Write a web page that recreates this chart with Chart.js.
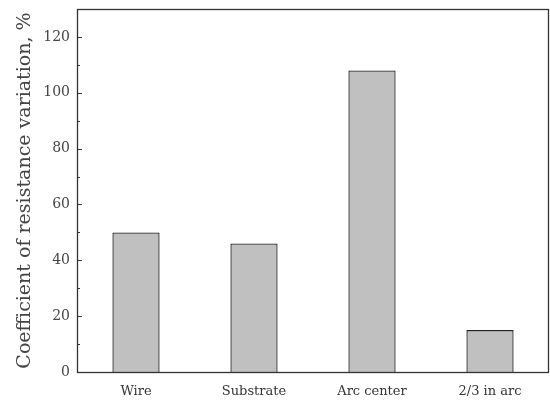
<!DOCTYPE html>
<html><head><meta charset="utf-8">
<script src="https://cdn.jsdelivr.net/npm/chart.js@4/dist/chart.umd.min.js"></script>
<style>html,body{margin:0;padding:0;background:#fff}#w{width:550px;height:402px}</style>
</head><body><div id="w"><canvas id="c" width="550" height="402"></canvas></div>
<script>
const categories = ["Wire", "Substrate", "Arc center", "2/3 in arc"];
const values = [50, 46, 108, 15];
const yTicks = [0, 20, 40, 60, 80, 100, 120];
const yTitle = "Coefficient of resistance variation, %";

const frame = {
  id: 'frame',
  afterDraw(chart) {
    const {ctx, chartArea: a, scales: {y}} = chart;
    ctx.save();
    ctx.strokeStyle = '#333';
    ctx.lineWidth = 1;
    for (let v = 0; v <= 130; v += 10) {
      const py = Math.round(y.getPixelForValue(v)) + 0.5;
      const len = (v % 20 === 0) ? 5 : 3;
      ctx.beginPath(); ctx.moveTo(a.left, py); ctx.lineTo(a.left + len, py); ctx.stroke();
    }
    ctx.lineWidth = 1.3;
    ctx.strokeRect(Math.round(a.left) + 0.5, Math.round(a.top) + 0.5, Math.round(a.right - a.left) - 1, Math.round(a.bottom - a.top));
    ctx.restore();
  }
};

new Chart(document.getElementById('c'), {
  type: 'bar',
  data: {
    labels: categories,
    datasets: [{
      data: values,
      backgroundColor: '#c0c0c0',
      borderColor: '#222',
      borderWidth: 1.3,
      barPercentage: 0.4,
      categoryPercentage: 1.0
    }]
  },
  options: {
    responsive: false,
    animation: false,
    layout: {padding: {top: 9, right: 1, left: 0, bottom: 0}},
    plugins: {legend: {display: false}, tooltip: {enabled: false}},
    scales: {
      x: {
        grid: {display: false, drawTicks: false},
        border: {display: false},
        ticks: {color: '#333', font: {family: 'DejaVu Serif', size: 13}, padding: 12, maxRotation: 0},
        afterFit(s) { s.height = 30; s.paddingLeft = 0; s.paddingRight = 0; }
      },
      y: {
        min: 0, max: 130,
        grid: {display: false, drawTicks: false},
        border: {display: false},
        afterBuildTicks(s) { s.ticks = yTicks.map(v => ({value: v})); },
        ticks: {color: '#444', font: {family: 'DejaVu Serif', size: 14}, padding: 7},
        title: {display: true, text: yTitle, color: '#444', font: {family: 'DejaVu Serif', size: 19}, padding: {top: 14, bottom: 0}},
        afterFit(s) { s.width = 77; s.paddingTop = 0; s.paddingBottom = 0; }
      }
    }
  },
  plugins: [frame]
});
</script></body></html>
